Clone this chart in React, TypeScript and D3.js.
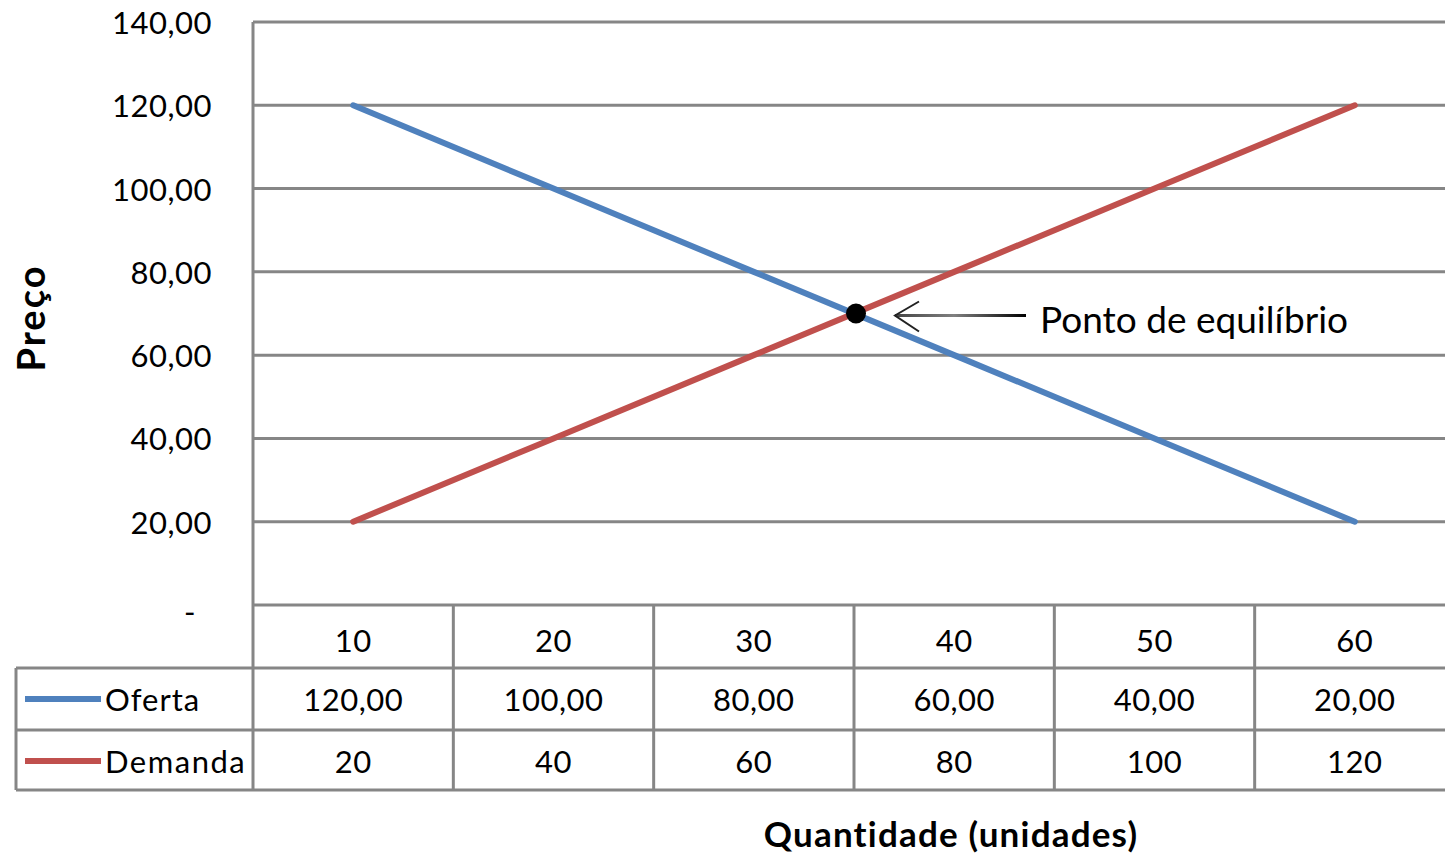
import React from "react";
import * as d3 from "d3";

// Quantities on the horizontal axis
const quantities = [10, 20, 30, 40, 50, 60];
// Supply ("Oferta") prices per quantity
const oferta = [120, 100, 80, 60, 40, 20];
// Demand ("Demanda") prices per quantity
const demanda = [20, 40, 60, 80, 100, 120];
// Price axis ticks
const priceTicks = [0, 20, 40, 60, 80, 100, 120, 140];
// Equilibrium point (quantity, price)
const equilibrium = { q: 35, p: 70 };

const W = 1445;
const H = 855;
const FONT = "Lato, 'Open Sans', sans-serif";
const GRID = "#868686";
const BLUE = "#4F81BD";
const RED = "#C0504D";

const plotLeft = 253;
const plotRight = 1455;
const plotTop = 22;
const plotBottom = 605;
const rowH = [63, 62, 60];
const tableLeft = 16;

export default function App() {
  const x = d3
    .scaleBand<number>()
    .domain(quantities)
    .range([plotLeft, plotRight])
    .padding(0);
  const y = d3.scaleLinear().domain([0, 140]).range([plotBottom, plotTop]);
  const cx = (q: number) => (x(q) as number) + x.bandwidth() / 2;
  // continuous quantity position (for the equilibrium marker)
  const xq = d3
    .scaleLinear()
    .domain([quantities[0], quantities[quantities.length - 1]])
    .range([cx(quantities[0]), cx(quantities[quantities.length - 1])]);

  const line = d3
    .line<number>()
    .x((_, i) => cx(quantities[i]))
    .y((d) => y(d));

  const fmtPrice = (v: number) => (v === 0 ? "-" : d3.format(".2f")(v).replace(".", ","));
  const fmtTable = (v: number) => d3.format(".2f")(v).replace(".", ",");

  const row1Top = plotBottom;
  const row2Top = row1Top + rowH[0];
  const row3Top = row2Top + rowH[1];
  const tableBottom = row3Top + rowH[2];

  const eqX = xq(equilibrium.q);
  const eqY = y(equilibrium.p);
  const arrowTip = eqX + 41;
  const arrowEnd = eqX + 172;

  return (
    <svg
      width={W}
      height={H}
      style={{ position: "absolute", left: 0, top: 0, background: "#fff" }}
      fontFamily={FONT}
    >
      <defs>
        <linearGradient
          id="arrowShade"
          gradientUnits="userSpaceOnUse"
          x1={arrowTip}
          x2={arrowEnd}
          y1={0}
          y2={0}
        >
          <stop offset="0" stopColor="#444" />
          <stop offset="0.45" stopColor="#808080" />
          <stop offset="1" stopColor="#000" />
        </linearGradient>
      </defs>

      {/* horizontal gridlines */}
      {priceTicks.map((t) => (
        <line
          key={"g" + t}
          x1={plotLeft}
          x2={plotRight}
          y1={y(t)}
          y2={y(t)}
          stroke={GRID}
          strokeWidth={3}
        />
      ))}
      {/* y tick labels */}
      {priceTicks.map((t) => (
        <text
          key={"t" + t}
          x={t === 0 ? 196 : 212}
          y={y(t) + (t === 0 ? 6 : 0)}
          textAnchor="end"
          dominantBaseline="central"
          fontSize={31}
          letterSpacing={0.5}
          fill="#000"
        >
          {fmtPrice(t)}
        </text>
      ))}

      {/* data table grid */}
      {[row2Top, row3Top, tableBottom].map((yy) => (
        <line key={"r" + yy} x1={tableLeft} x2={plotRight} y1={yy} y2={yy} stroke={GRID} strokeWidth={3} />
      ))}
      <line x1={tableLeft} x2={tableLeft} y1={row2Top} y2={tableBottom} stroke={GRID} strokeWidth={3} />
      <line x1={plotLeft} x2={plotLeft} y1={plotTop} y2={tableBottom} stroke={GRID} strokeWidth={3} />
      {quantities.map((q) => (
        <line
          key={"v" + q}
          x1={(x(q) as number) + x.bandwidth()}
          x2={(x(q) as number) + x.bandwidth()}
          y1={row1Top}
          y2={tableBottom}
          stroke={GRID}
          strokeWidth={3}
        />
      ))}

      {/* table contents */}
      {quantities.map((q, i) => (
        <g key={"c" + q} fontSize={31} textAnchor="middle" letterSpacing={0.5}>
          <text x={cx(q)} y={row1Top + 35} dominantBaseline="central">
            {q}
          </text>
          <text x={cx(q)} y={row2Top + 31} dominantBaseline="central">
            {fmtTable(oferta[i])}
          </text>
          <text x={cx(q)} y={row3Top + 31} dominantBaseline="central">
            {demanda[i]}
          </text>
        </g>
      ))}

      {/* legend keys */}
      <line x1={25} x2={101} y1={row2Top + 31} y2={row2Top + 31} stroke={BLUE} strokeWidth={6} />
      <text x={105} y={row2Top + 31} dominantBaseline="central" fontSize={31} letterSpacing={1}>
        Oferta
      </text>
      <line x1={25} x2={101} y1={row3Top + 31} y2={row3Top + 31} stroke={RED} strokeWidth={6} />
      <text x={105} y={row3Top + 31} dominantBaseline="central" fontSize={31} letterSpacing={1.5}>
        Demanda
      </text>

      {/* series */}
      <path d={line(oferta) as string} fill="none" stroke={BLUE} strokeWidth={6} strokeLinecap="round" />
      <path d={line(demanda) as string} fill="none" stroke={RED} strokeWidth={6} strokeLinecap="round" />

      {/* equilibrium marker and annotation */}
      <circle cx={eqX + 2} cy={eqY} r={10} fill="#000" />
      <rect x={arrowTip} y={eqY + 0.5} width={arrowEnd - arrowTip} height={3} fill="url(#arrowShade)" />
      <polyline
        points={`${arrowTip + 24},${eqY - 12} ${arrowTip},${eqY + 2} ${arrowTip + 24},${eqY + 18}`}
        fill="none"
        stroke="#222"
        strokeWidth={2}
      />
      <text x={arrowEnd + 14} y={eqY + 5} dominantBaseline="central" fontSize={37}>
        Ponto de equilíbrio
      </text>

      {/* axis titles */}
      <text
        transform={`translate(30,318) rotate(-90)`}
        textAnchor="middle"
        dominantBaseline="central"
        fontSize={38}
        letterSpacing={2}
        fontWeight="bold"
      >
        Preço
      </text>
      <text
        x={951}
        y={833}
        textAnchor="middle"
        dominantBaseline="central"
        fontSize={35}
        letterSpacing={1.2}
        fontWeight="bold"
      >
        Quantidade (unidades)
      </text>
    </svg>
  );
}
